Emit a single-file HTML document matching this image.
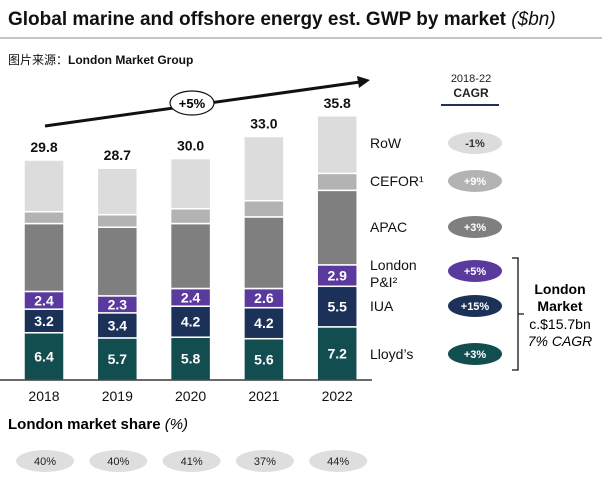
<!DOCTYPE html>
<html><head><meta charset="utf-8"><style>
body{margin:0;width:602px;height:481px;background:#fff;overflow:hidden;font-family:"Liberation Sans","Noto Sans CJK SC",sans-serif}
</style></head><body>
<svg width="602" height="481" font-family="Liberation Sans, Noto Sans CJK SC, sans-serif">
<text x="8" y="25" font-size="19" font-weight="bold" fill="#111">Global marine and offshore energy est. GWP by market <tspan font-style="italic" font-weight="normal">($bn)</tspan></text>
<line x1="0" y1="38" x2="602" y2="38" stroke="#888" stroke-width="1"/>
<text x="8" y="64" font-size="12" fill="#111">图片来源：<tspan font-weight="bold">London Market Group</tspan></text>
<line x1="45" y1="126" x2="360" y2="82" stroke="#111" stroke-width="3"/>
<polygon points="370,80 357,76 359,88" fill="#111"/>
<ellipse cx="192" cy="103" rx="22" ry="12" fill="#fff" stroke="#111" stroke-width="1.2"/>
<text x="192" y="108" font-size="13" font-weight="bold" text-anchor="middle">+5%</text>
<g id="bars"></g>
<line x1="0" y1="380" x2="372" y2="380" stroke="#111" stroke-width="1.2"/>
<g id="legend"></g>
<text x="471" y="82" font-size="11" text-anchor="middle" fill="#222">2018-22</text>
<text x="471" y="97" font-size="12" font-weight="bold" text-anchor="middle" fill="#222">CAGR</text>
<line x1="441" y1="105" x2="499" y2="105" stroke="#1b3558" stroke-width="2"/>
<path d="M512,258 H518 V370 H512 M518,314 H524" fill="none" stroke="#111" stroke-width="1.3"/>
<text x="560" y="294" font-size="14" font-weight="bold" text-anchor="middle">London</text>
<text x="560" y="311" font-size="14" font-weight="bold" text-anchor="middle">Market</text>
<text x="560" y="329" font-size="14" text-anchor="middle">c.$15.7bn</text>
<text x="560" y="346" font-size="14" font-style="italic" text-anchor="middle">7% CAGR</text>
<text x="8" y="429" font-size="15" font-weight="bold">London market share <tspan font-weight="normal" font-style="italic">(%)</tspan></text>
<g id="share"></g>
</svg>
<script>
const years=["2018","2019","2020","2021","2022"];
const lloyds=[6.4,5.7,5.8,5.6,7.2];
const iua=[3.2,3.4,4.2,4.2,5.5];
const pandi=[2.4,2.3,2.4,2.6,2.9];
const apac=[9.2,9.3,8.8,9.7,10.1];
const cefor=[1.6,1.7,2.0,2.2,2.3];
const row=[7.0,6.3,6.8,8.7,7.8];
const totals=["29.8","28.7","30.0","33.0","35.8"];
const shares=["40%","40%","41%","37%","44%"];
const legendNames=["RoW","CEFOR¹","APAC","London P&I²","IUA","Lloyd’s"];
const cagrs=["-1%","+9%","+3%","+5%","+15%","+3%"];
const NS="http://www.w3.org/2000/svg";
const base=380,scale=7.38;
function yv(v){return base-v*scale;}
function xc(i){return 44+i*73.3;}
function mk(t,a,p){const e=document.createElementNS(NS,t);for(const k in a)e.setAttribute(k,a[k]);p.appendChild(e);return e;}
const series=[[lloyds,"#124d4f",true],[iua,"#1b3158",true],[pandi,"#5b3a9e",true],[apac,"#7f7f7f",false],[cefor,"#b3b3b3",false],[row,"#dcdcdc",false]];
const bars=document.getElementById("bars");
years.forEach((yr,i)=>{
  let cum=0;
  series.forEach(([arr,col,lab],s)=>{
    const v=arr[i];
    const r=mk("rect",{x:xc(i)-20,y:yv(cum+v),width:40,height:v*scale,fill:col,stroke:"#fff","stroke-width":1.5},bars);
    
    
    if(lab){const t=mk("text",{x:xc(i),y:yv(cum+v/2)+5,"font-size":14,"font-weight":"bold",fill:"#fff","text-anchor":"middle"},bars);t.textContent=v.toFixed(1);
      
      }
    cum+=v;
  });
  const t=mk("text",{x:xc(i),y:yv(cum)-8,"font-size":14,"font-weight":"bold","text-anchor":"middle",fill:"#111"},bars);t.textContent=totals[i];
  
  
  const xl=mk("text",{x:xc(i),y:401,"font-size":14,"text-anchor":"middle",fill:"#111"},bars);xl.textContent=yr;
  
  
  const sh=document.getElementById("share");
  const e=mk("ellipse",{cx:xc(i)+1,cy:461,rx:29,ry:11,fill:"#dedede"},sh);
  
  
  const st=mk("text",{x:xc(i)+1,y:465,"font-size":11,"text-anchor":"middle",fill:"#222"},sh);st.textContent=shares[i];
  
  
});
const lg=document.getElementById("legend");
const ly=[143,181,227,271,306,354];
const lcol=["#dcdcdc","#b3b3b3","#7f7f7f","#5b3a9e","#1b3158","#124d4f"];
const ltxt=["#333","#fff","#fff","#fff","#fff","#fff"];
legendNames.forEach((n,k)=>{
  if(k===3){
    const a=mk("text",{x:370,y:270,"font-size":14,fill:"#111"},lg);a.textContent="London";
    
    
    const b=mk("text",{x:370,y:287,"font-size":14,fill:"#111"},lg);b.textContent="P&I²";
    
    
  } else {
    const a=mk("text",{x:370,y:ly[k]+5,"font-size":14,fill:"#111"},lg);a.textContent=n;
    
    
  }
  const e=mk("ellipse",{cx:475,cy:ly[k],rx:27,ry:11,fill:lcol[k]},lg);
  
  
  const t=mk("text",{x:475,y:ly[k]+4,"font-size":11,"font-weight":"bold","text-anchor":"middle",fill:ltxt[k]},lg);t.textContent=cagrs[k];
  
  
});
</script>
</body></html>
